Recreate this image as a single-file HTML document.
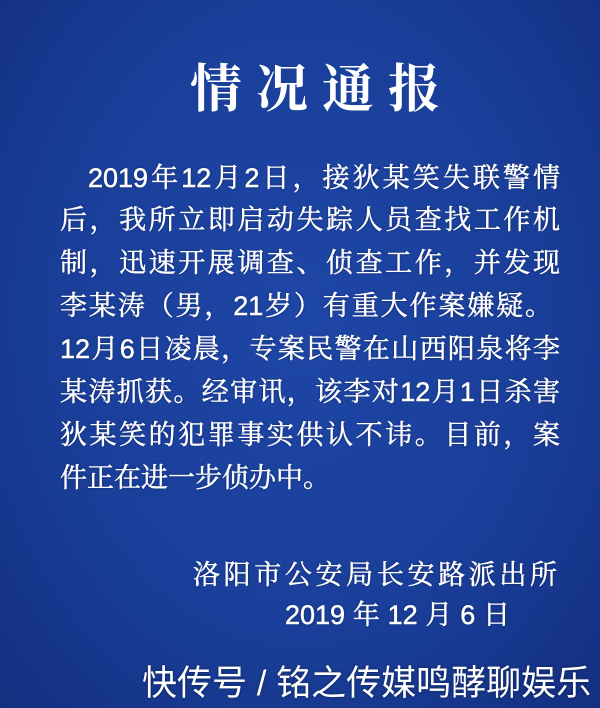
<!DOCTYPE html>
<html><head><meta charset="utf-8"><style>
body{margin:0;width:600px;height:708px;overflow:hidden;background:radial-gradient(ellipse at 50% 45%,#1e46a6 0%,#1a3f9a 55%,#132f80 100%);position:relative;font-family:"Liberation Sans","Noto Serif CJK SC","Noto Sans CJK SC",serif;color:#fff}
.l{position:absolute;font-size:27px;line-height:36px;height:36px;white-space:nowrap;text-align:justify;text-align-last:justify;text-shadow:0 0 2px rgba(0,0,30,.6);-webkit-text-stroke:0.5px #fff}
.t{position:absolute;left:190px;width:250px;top:55px;font-size:52px;line-height:60px;font-weight:bold;text-align-last:justify;text-align:justify;font-family:"Noto Serif CJK SC",serif}
.w{position:absolute;left:142px;top:662px;width:448px;font-size:35px;line-height:44px;white-space:nowrap;text-align:justify;text-align-last:justify;font-family:"Liberation Sans","Noto Sans CJK SC",sans-serif;text-shadow:0 0 3px rgba(0,0,0,.4)}
</style></head><body>
<div class="t">情况通报</div>
<div class="l" style="left:88px;width:472px;top:160px">2019年12月2日，接狄某笑失联警情</div>
<div class="l" style="left:60px;width:500px;top:202px">后，我所立即启动失踪人员查找工作机</div>
<div class="l" style="left:60px;width:500px;top:245px">制，迅速开展调查、侦查工作，并发现</div>
<div class="l" style="left:60px;width:492px;top:288px">李某涛（男，21岁）有重大作案嫌疑。</div>
<div class="l" style="left:60px;width:500px;top:331px">12月6日凌晨，专案民警在山西阳泉将李</div>
<div class="l" style="left:60px;width:500px;top:374px">某涛抓获。经审讯，该李对12月1日杀害</div>
<div class="l" style="left:60px;width:500px;top:417px">狄某笑的犯罪事实供认不讳。目前，案</div>
<div class="l" style="left:60px;width:270px;top:460px">件正在进一步侦办中。</div>
<div class="l" style="left:193px;width:364px;top:557px">洛阳市公安局长安路派出所</div>
<div class="l" style="left:285px;width:225px;top:597px">2019年12月6日</div>
<div class="w">快传号 / 铭之传媒鸣酵聊娱乐</div>
</body></html>
